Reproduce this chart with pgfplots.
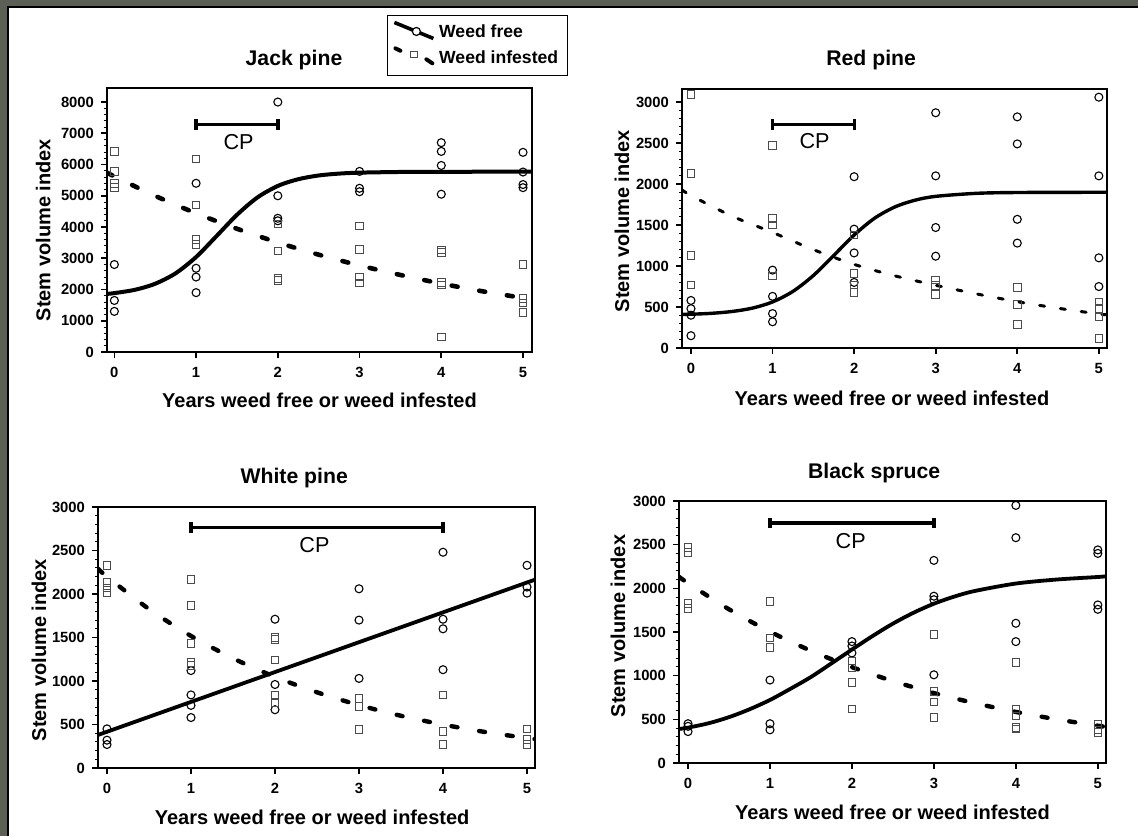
\documentclass[border=0pt]{standalone}
\usepackage{fontspec}
\setmainfont{Liberation Sans}
\usepackage{pgfplots}
\pgfplotsset{compat=1.18}
\definecolor{framegray}{RGB}{92,95,86}
\definecolor{sqgray}{RGB}{75,75,75}

\pgfplotsset{
  panel/.style={
    scale only axis,
    axis line style={line width=0.9pt},
    ymin=0,
    xtick={0,1,2,3,4,5},
    tick align=outside,
    xtick pos=bottom, ytick pos=left,
    minor y tick num=4,
    major tick length=3pt, minor tick length=1.7pt,
    major tick style={line width=0.8pt, black},
    minor tick style={line width=0.5pt, black},
    /pgf/number format/assume math mode=true,
    /pgf/number format/1000 sep={},
    tick label style={font=\fontsize{7.4}{8}\selectfont\bfseries},
    xticklabel style={yshift=-1pt},
    label style={font=\fontsize{10}{12}\selectfont\bfseries},
    every axis title shift=0pt,
    title style={font=\fontsize{10.6}{12}\selectfont\bfseries, anchor=center},
    xlabel={Years weed free or weed infested},
    ylabel={Stem volume index},
  },
  free/.style={black, line width=#1, smooth, no marks},
  inf/.style={black, line width=2.2pt, dash pattern=on 3pt off 11pt, line cap=round, smooth, no marks},
  infthin/.style={black, line width=1.5pt, dash pattern=on 2.5pt off 8pt, line cap=round, smooth, no marks},
  pc/.style={only marks, mark=o, mark size=2pt, mark options={line width=0.55pt, black}},
  ps/.style={only marks, mark=square, mark size=1.9pt, mark options={line width=0.45pt, sqgray}},
  cp/.style={black, line width=#1, mark=|, mark size=2.6pt, mark options={line width=#1}},
}
\newcommand{\cplabel}[2]{\node[font=\fontsize{10.8}{12}\selectfont] at (axis cs:#1,#2) {CP};}

\begin{document}
\begin{tikzpicture}
\useasboundingbox (0,0) rectangle (569pt,418pt);
\fill[white] (0,0) rectangle (569pt,418pt);
\fill[framegray] (0,415pt) rectangle (569pt,418pt);
\fill[framegray] (0,0) rectangle (3.5pt,418pt);
\draw[black, line width=1pt] (4pt,0) -- (4pt,414.5pt) -- (569pt,414.5pt);

% Jack pine
\begin{axis}[panel, at={(53.5pt,242pt)}, anchor=south west,
  width=212.5pt, height=132pt,
  xmin=-0.09, xmax=5.11, ymax=8450,
  ytick={0,1000,...,8000},
  title={Jack pine}, title style={at={(axis description cs:0.44,1.106)}},
  xlabel style={at={(axis description cs:0.5,-0.182)}, anchor=center},
  ylabel style={at={(axis description cs:-0.15,0.462)}, anchor=center},
  legend style={at={(axis description cs:0.6588,1.2765)}, anchor=north west,
    draw=black, line width=0.6pt, font=\fontsize{8.8}{10}\selectfont\bfseries,
    inner xsep=2.5pt, inner ysep=2.5pt, row sep=1pt},
  legend cell align=left,
]
\addlegendimage{legend image code/.code={
  \draw[line width=1.8pt] (0pt,5pt) -- (19.5pt,-3pt);
  \draw[line width=0.6pt, fill=white] (11pt,0.5pt) circle (2pt);}}
\addlegendentry{Weed free}
\addlegendimage{legend image code/.code={
  \draw[line width=2pt, line cap=round] (0.5pt,5pt) -- (3pt,3.8pt);
  \draw[line width=0.5pt, sqgray] (8pt,0.5pt) rectangle (11.5pt,3.5pt);
  \draw[line width=2pt, line cap=round] (16pt,-0.5pt) -- (19pt,-2.5pt);}}
\addlegendentry{Weed infested}
\addplot[free=2pt] coordinates {(-0.09,1860)(0,1885)(0.25,1990)(0.5,2185)(0.75,2520)(1,3040)(1.25,3710)(1.5,4390)(1.75,4945)(2,5315)(2.25,5530)(2.5,5650)(2.75,5710)(3,5740)(3.5,5762)(4,5768)(5,5770)(5.11,5770)};
\addplot[inf, line width=2.3pt] coordinates {(-0.09,5740)(0,5620)(0.5,4995)(1,4440)(1.5,3945)(2,3505)(2.5,3115)(3,2770)(3.5,2465)(4,2190)(4.5,1945)(5,1730)(5.11,1685)};
\addplot[pc] coordinates {
(0,2800)(0,1650)(0,1300)
(1,5400)(1,2680)(1,2400)(1,1900)
(2,8000)(2,5000)(2,4280)(2,4200)
(3,5780)(3,5240)(3,5130)
(4,6700)(4,6420)(4,5970)(4,5050)
(5,6390)(5,5760)(5,5360)(5,5260)};
\addplot[ps] coordinates {
(0,6420)(0,5780)(0,5400)(0,5270)
(1,6180)(1,4710)(1,3600)(1,3440)
(2,4100)(2,3240)(2,2350)(2,2290)
(3,4030)(3,3280)(3,2400)(3,2210)
(4,3270)(4,3190)(4,2220)(4,2150)(4,480)
(5,2800)(5,1710)(5,1570)(5,1270)};
\addplot[cp=1.8pt] coordinates {(1,7280)(2,7280)};
\cplabel{1.52}{6730}
\end{axis}

% Red pine
\begin{axis}[panel, at={(341pt,244pt)}, anchor=south west,
  width=212.5pt, height=129.5pt,
  xmin=-0.11, xmax=5.10, ymax=3160,
  ytick={0,500,...,3000},
  title={Red pine}, title style={at={(axis description cs:0.445,1.112)}},
  xlabel style={at={(axis description cs:0.494,-0.193)}, anchor=center},
  ylabel style={at={(axis description cs:-0.141,0.49)}, anchor=center},
]
\addplot[free=1.7pt] coordinates {(-0.11,409)(0,412)(0.25,423)(0.5,445)(0.75,486)(1,562)(1.25,691)(1.5,884)(1.75,1129)(2,1378)(2.25,1583)(2.5,1721)(2.75,1804)(3,1850)(3.5,1887)(4,1897)(5,1900)(5.10,1900)};
\addplot[infthin] coordinates {(-0.11,1930)(0,1860)(0.5,1610)(1,1410)(1.5,1200)(2,1020)(2.5,880)(3,765)(3.5,660)(4,565)(4.5,485)(5,415)(5.10,405)};
\addplot[pc] coordinates {
(0,580)(0,480)(0,400)(0,150)
(1,950)(1,630)(1,420)(1,320)
(2,2090)(2,1450)(2,1160)(2,800)
(3,2870)(3,2100)(3,1470)(3,1120)
(4,2820)(4,2490)(4,1570)(4,1280)
(5,3060)(5,2100)(5,1100)(5,750)};
\addplot[ps] coordinates {
(0,3090)(0,2130)(0,1130)(0,770)
(1,2470)(1,1580)(1,1500)(1,880)
(2,1380)(2,910)(2,770)(2,680)
(3,830)(3,760)(3,650)
(4,740)(4,530)(4,290)
(5,560)(5,480)(5,380)(5,120)};
\addplot[cp=1.5pt] coordinates {(1,2725)(2,2725)};
\cplabel{1.515}{2530}
\end{axis}

% White pine
\begin{axis}[panel, at={(49pt,34pt)}, anchor=south west,
  width=218.5pt, height=130.5pt,
  xmin=-0.107, xmax=5.095, ymax=3000,
  ytick={0,500,...,3000},
  title={White pine}, title style={at={(axis description cs:0.449,1.111)}},
  xlabel style={at={(axis description cs:0.49,-0.19)}, anchor=center},
  ylabel style={at={(axis description cs:-0.135,0.452)}, anchor=center},
]
\addplot[free=1.9pt] coordinates {(-0.107,380)(5.095,2165)};
\addplot[inf] coordinates {(-0.107,2290)(0,2200)(0.5,1827)(1,1518)(1.5,1261)(2,1047)(2.5,870)(3,723)(3.5,600)(4,499)(4.5,414)(5,344)(5.095,332)};
\addplot[pc] coordinates {
(0,450)(0,320)(0,270)
(1,1120)(1,840)(1,720)(1,580)
(2,1710)(2,960)(2,670)
(3,2060)(3,1700)(3,1030)
(4,2480)(4,1710)(4,1600)(4,1130)
(5,2330)(5,2080)(5,2010)};
\addplot[ps] coordinates {
(0,2330)(0,2130)(0,2070)(0,2010)
(1,2170)(1,1870)(1,1430)(1,1210)(1,1180)
(2,1500)(2,1480)(2,1240)(2,840)(2,750)
(3,800)(3,710)(3,440)
(4,840)(4,420)(4,270)
(5,450)(5,330)(5,270)};
\addplot[cp=1.8pt] coordinates {(1,2765)(4,2765)};
\cplabel{2.47}{2567}
\end{axis}

% Black spruce
\begin{axis}[panel, at={(339.5pt,36.5pt)}, anchor=south west,
  width=213.5pt, height=131pt,
  xmin=-0.11, xmax=5.10, ymax=3000,
  ytick={0,500,...,3000},
  title={Black spruce}, title style={at={(axis description cs:0.457,1.107)}},
  xlabel style={at={(axis description cs:0.5,-0.19)}, anchor=center},
  ylabel style={at={(axis description cs:-0.143,0.523)}, anchor=center},
]
\addplot[free=1.9pt] coordinates {(-0.11,390)(0,405)(0.25,455)(0.5,525)(0.75,615)(1,722)(1.25,850)(1.5,985)(1.75,1141)(2,1299)(2.25,1453)(2.5,1596)(2.75,1720)(3,1824)(3.25,1906)(3.5,1970)(4,2055)(4.5,2101)(5,2130)(5.10,2138)};
\addplot[inf] coordinates {(-0.11,2132)(0,2060)(0.5,1760)(1,1504)(1.5,1285)(2,1098)(2.5,938)(3,801)(3.5,685)(4,585)(4.5,500)(5,427)(5.10,414)};
\addplot[pc] coordinates {
(0,450)(0,420)(0,360)
(1,950)(1,450)(1,380)
(2,1390)(2,1340)(2,1260)
(3,2320)(3,1910)(3,1870)(3,1010)
(4,2950)(4,2580)(4,1600)(4,1390)
(5,2440)(5,2400)(5,1810)(5,1760)};
\addplot[ps] coordinates {
(0,2470)(0,2410)(0,1830)(0,1770)
(1,1850)(1,1430)(1,1320)
(2,1170)(2,1090)(2,920)(2,620)
(3,1470)(3,820)(3,700)(3,520)
(4,1150)(4,620)(4,540)(4,410)(4,390)
(5,440)(5,380)(5,350)};
\addplot[cp=1.8pt] coordinates {(1,2750)(3,2750)};
\cplabel{1.985}{2546}
\end{axis}
\end{tikzpicture}
\end{document}
